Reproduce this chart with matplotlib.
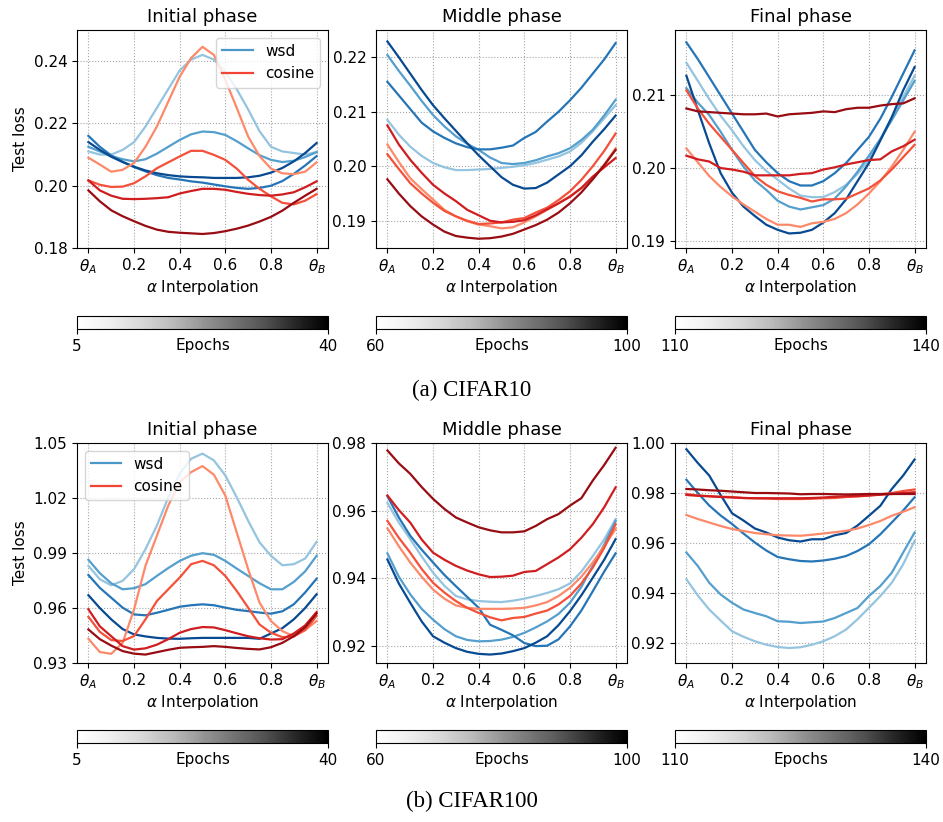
import numpy as np
import matplotlib
matplotlib.use("Agg")
import matplotlib.pyplot as plt
from matplotlib.cm import ScalarMappable
from matplotlib.colors import Normalize

alpha = [0.0, 0.05, 0.1, 0.15, 0.2, 0.25, 0.3, 0.35, 0.4, 0.45, 0.5,
         0.55, 0.6, 0.65, 0.7, 0.75, 0.8, 0.85, 0.9, 0.95, 1.0]

phases = ["Initial phase", "Middle phase", "Final phase"]
phase_epochs = [(5, 40), (60, 100), (110, 140)]

# ---- CIFAR10 test loss along the interpolation path (light -> dark = later epoch)
c10_init_wsd = [
    [0.2110, 0.2100, 0.2100, 0.2115, 0.2140, 0.2190, 0.2250, 0.2310, 0.2370, 0.2405, 0.2420,
     0.2405, 0.2365, 0.2310, 0.2245, 0.2175, 0.2125, 0.2110, 0.2105, 0.2100, 0.2108],
    [0.2125, 0.2110, 0.2095, 0.2085, 0.2078, 0.2085, 0.2103, 0.2125, 0.2147, 0.2165, 0.2174,
     0.2172, 0.2163, 0.2143, 0.2120, 0.2098, 0.2083, 0.2076, 0.2080, 0.2092, 0.2108],
    [0.2160, 0.2125, 0.2097, 0.2077, 0.2060, 0.2046, 0.2034, 0.2025, 0.2020, 0.2014, 0.2010,
     0.2004, 0.1998, 0.1993, 0.1990, 0.1993, 0.2000, 0.2015, 0.2038, 0.2065, 0.2095],
    [0.2140, 0.2115, 0.2093, 0.2076, 0.2061, 0.2049, 0.2040, 0.2034, 0.2030, 0.2028, 0.2027,
     0.2025, 0.2025, 0.2025, 0.2027, 0.2032, 0.2042, 0.2057, 0.2078, 0.2105, 0.2137],
]
c10_init_cos = [
    [0.2090, 0.2068, 0.2045, 0.2051, 0.2073, 0.2125, 0.2190, 0.2270, 0.2350, 0.2410, 0.2446,
     0.2420, 0.2340, 0.2250, 0.2158, 0.2095, 0.2055, 0.2040, 0.2037, 0.2045, 0.2075],
    [0.2017, 0.2003, 0.1996, 0.1997, 0.2008, 0.2030, 0.2056, 0.2075, 0.2094, 0.2112, 0.2112,
     0.2099, 0.2083, 0.2055, 0.2019, 0.1990, 0.1966, 0.1945, 0.1940, 0.1952, 0.1973],
    [0.2017, 0.1985, 0.1968, 0.1958, 0.1957, 0.1958, 0.1960, 0.1963, 0.1975, 0.1983, 0.1990,
     0.1990, 0.1987, 0.1980, 0.1974, 0.1970, 0.1968, 0.1972, 0.1979, 0.1995, 0.2014],
    [0.1985, 0.1950, 0.1921, 0.1902, 0.1886, 0.1871, 0.1859, 0.1852, 0.1849, 0.1847, 0.1845,
     0.1848, 0.1854, 0.1862, 0.1872, 0.1885, 0.1900, 0.1920, 0.1945, 0.1968, 0.1990],
]
c10_mid_wsd = [
    [0.2085, 0.2058, 0.2036, 0.2019, 0.2006, 0.1998, 0.1993, 0.1993, 0.1994, 0.1995, 0.1997,
     0.1999, 0.2002, 0.2006, 0.2012, 0.2018, 0.2027, 0.2043, 0.2064, 0.2088, 0.2112],
    [0.2204, 0.2175, 0.2148, 0.2120, 0.2094, 0.2073, 0.2055, 0.2041, 0.2030, 0.2016, 0.2006,
     0.2004, 0.2006, 0.2011, 0.2018, 0.2024, 0.2033, 0.2048, 0.2067, 0.2093, 0.2122],
    [0.2155, 0.2130, 0.2105, 0.2080, 0.2064, 0.2052, 0.2042, 0.2035, 0.2031, 0.2031, 0.2034,
     0.2038, 0.2052, 0.2063, 0.2082, 0.2100, 0.2121, 0.2144, 0.2170, 0.2196, 0.2226],
    [0.2229, 0.2200, 0.2170, 0.2140, 0.2112, 0.2088, 0.2065, 0.2042, 0.2020, 0.2000, 0.1980,
     0.1966, 0.1959, 0.1960, 0.1970, 0.1985, 0.2000, 0.2020, 0.2045, 0.2068, 0.2093],
]
c10_mid_cos = [
    [0.2040, 0.2008, 0.1978, 0.1958, 0.1939, 0.1920, 0.1908, 0.1899, 0.1893, 0.1890, 0.1886,
     0.1888, 0.1897, 0.1908, 0.1920, 0.1932, 0.1945, 0.1960, 0.1978, 0.2003, 0.2033],
    [0.2022, 0.1995, 0.1969, 0.1950, 0.1933, 0.1918, 0.1908, 0.1900, 0.1894, 0.1895, 0.1897,
     0.1902, 0.1905, 0.1915, 0.1924, 0.1938, 0.1954, 0.1975, 0.2000, 0.2028, 0.2060],
    [0.2075, 0.2040, 0.2012, 0.1988, 0.1966, 0.1950, 0.1936, 0.1920, 0.1910, 0.1900, 0.1897,
     0.1898, 0.1901, 0.1910, 0.1921, 0.1932, 0.1944, 0.1960, 0.1981, 0.1998, 0.2015],
    [0.1976, 0.1950, 0.1927, 0.1908, 0.1893, 0.1880, 0.1872, 0.1869, 0.1867, 0.1868, 0.1871,
     0.1876, 0.1884, 0.1892, 0.1902, 0.1915, 0.1932, 0.1952, 0.1976, 0.2002, 0.2030],
]
c10_fin_wsd = [
    [0.2145, 0.2120, 0.2095, 0.2072, 0.2052, 0.2030, 0.2011, 0.1996, 0.1984, 0.1972, 0.1962,
     0.1960, 0.1960, 0.1967, 0.1977, 0.1992, 0.2011, 0.2040, 0.2070, 0.2098, 0.2127],
    [0.2110, 0.2090, 0.2073, 0.2050, 0.2025, 0.2002, 0.1983, 0.1970, 0.1955, 0.1947, 0.1943,
     0.1946, 0.1949, 0.1958, 0.1975, 0.1995, 0.2017, 0.2040, 0.2066, 0.2093, 0.2120],
    [0.2173, 0.2150, 0.2125, 0.2100, 0.2075, 0.2050, 0.2025, 0.2008, 0.1993, 0.1982, 0.1976,
     0.1976, 0.1982, 0.1993, 0.2007, 0.2025, 0.2043, 0.2068, 0.2098, 0.2130, 0.2162],
    [0.2127, 0.2080, 0.2034, 0.1993, 0.1966, 0.1947, 0.1934, 0.1922, 0.1915, 0.1910, 0.1911,
     0.1915, 0.1925, 0.1938, 0.1957, 0.1982, 0.2007, 0.2038, 0.2070, 0.2107, 0.2139],
]
c10_fin_cos = [
    [0.2027, 0.2008, 0.1989, 0.1974, 0.1961, 0.1950, 0.1940, 0.1930, 0.1922, 0.1922, 0.1919,
     0.1924, 0.1926, 0.1930, 0.1938, 0.1950, 0.1965, 0.1982, 0.2002, 0.2025, 0.2050],
    [0.2107, 0.2082, 0.2061, 0.2043, 0.2025, 0.2007, 0.1989, 0.1977, 0.1968, 0.1963, 0.1959,
     0.1954, 0.1957, 0.1957, 0.1958, 0.1965, 0.1972, 0.1983, 0.1998, 0.2015, 0.2032],
    [0.2017, 0.2012, 0.2009, 0.2000, 0.1998, 0.1995, 0.1990, 0.1990, 0.1990, 0.1990, 0.1992,
     0.1993, 0.1998, 0.2001, 0.2005, 0.2008, 0.2011, 0.2012, 0.2023, 0.2030, 0.2039],
    [0.2082, 0.2078, 0.2077, 0.2076, 0.2075, 0.2074, 0.2074, 0.2075, 0.2071, 0.2074, 0.2075,
     0.2076, 0.2078, 0.2077, 0.2081, 0.2083, 0.2083, 0.2086, 0.2088, 0.2089, 0.2096],
]

# ---- CIFAR100
c100_init_wsd = [
    [0.9830, 0.9757, 0.9724, 0.9748, 0.9812, 0.9921, 1.0049, 1.0204, 1.0332, 1.0414, 1.0442,
     1.0405, 1.0323, 1.0204, 1.0076, 0.9958, 0.9885, 0.9833, 0.9839, 0.9870, 0.9961],
    [0.9863, 0.9790, 0.9735, 0.9702, 0.9708, 0.9730, 0.9775, 0.9818, 0.9857, 0.9885, 0.9899,
     0.9890, 0.9857, 0.9815, 0.9775, 0.9735, 0.9702, 0.9702, 0.9742, 0.9800, 0.9885],
    [0.9780, 0.9710, 0.9656, 0.9602, 0.9565, 0.9560, 0.9574, 0.9590, 0.9607, 0.9615, 0.9620,
     0.9615, 0.9602, 0.9590, 0.9583, 0.9575, 0.9569, 0.9582, 0.9620, 0.9685, 0.9760],
    [0.9670, 0.9600, 0.9538, 0.9485, 0.9456, 0.9445, 0.9437, 0.9433, 0.9432, 0.9435, 0.9437,
     0.9437, 0.9437, 0.9437, 0.9437, 0.9432, 0.9461, 0.9490, 0.9538, 0.9600, 0.9675],
]
c100_init_cos = [
    [0.9432, 0.9360, 0.9350, 0.9410, 0.9592, 0.9830, 0.9994, 1.0159, 1.0286, 1.0341, 1.0374,
     1.0327, 1.0213, 1.0012, 0.9812, 0.9629, 0.9529, 0.9474, 0.9446, 0.9480, 0.9529],
    [0.9552, 0.9470, 0.9425, 0.9420, 0.9447, 0.9538, 0.9638, 0.9702, 0.9766, 0.9839, 0.9857,
     0.9833, 0.9775, 0.9693, 0.9602, 0.9510, 0.9465, 0.9441, 0.9445, 0.9480, 0.9556],
    [0.9593, 0.9500, 0.9446, 0.9392, 0.9373, 0.9380, 0.9400, 0.9430, 0.9465, 0.9485, 0.9496,
     0.9494, 0.9479, 0.9462, 0.9446, 0.9435, 0.9428, 0.9430, 0.9461, 0.9505, 0.9578],
    [0.9483, 0.9430, 0.9395, 0.9365, 0.9351, 0.9346, 0.9359, 0.9372, 0.9383, 0.9386, 0.9388,
     0.9392, 0.9388, 0.9382, 0.9377, 0.9374, 0.9386, 0.9410, 0.9446, 0.9495, 0.9570],
]
c100_mid_wsd = [
    [0.9623, 0.9565, 0.9516, 0.9465, 0.9417, 0.9378, 0.9348, 0.9338, 0.9333, 0.9331, 0.9330,
     0.9334, 0.9340, 0.9348, 0.9357, 0.9368, 0.9385, 0.9420, 0.9466, 0.9515, 0.9575],
    [0.9474, 0.9405, 0.9353, 0.9310, 0.9278, 0.9250, 0.9229, 0.9218, 0.9214, 0.9215, 0.9219,
     0.9227, 0.9239, 0.9255, 0.9273, 0.9295, 0.9328, 0.9375, 0.9437, 0.9500, 0.9570],
    [0.9643, 0.9580, 0.9526, 0.9485, 0.9447, 0.9410, 0.9377, 0.9345, 0.9313, 0.9263, 0.9248,
     0.9232, 0.9209, 0.9200, 0.9201, 0.9220, 0.9258, 0.9305, 0.9362, 0.9420, 0.9474],
    [0.9456, 0.9385, 0.9328, 0.9273, 0.9229, 0.9210, 0.9194, 0.9183, 0.9177, 0.9175, 0.9178,
     0.9185, 0.9194, 0.9210, 0.9229, 0.9262, 0.9303, 0.9350, 0.9402, 0.9455, 0.9516],
]
c100_mid_cos = [
    [0.9548, 0.9495, 0.9447, 0.9405, 0.9367, 0.9340, 0.9320, 0.9313, 0.9310, 0.9310, 0.9310,
     0.9311, 0.9313, 0.9320, 0.9330, 0.9348, 0.9372, 0.9405, 0.9447, 0.9495, 0.9546],
    [0.9570, 0.9520, 0.9476, 0.9428, 0.9387, 0.9358, 0.9333, 0.9313, 0.9298, 0.9285, 0.9276,
     0.9283, 0.9286, 0.9296, 0.9305, 0.9323, 0.9348, 0.9385, 0.9432, 0.9490, 0.9560],
    [0.9645, 0.9602, 0.9565, 0.9515, 0.9476, 0.9455, 0.9437, 0.9423, 0.9412, 0.9404, 0.9405,
     0.9408, 0.9419, 0.9422, 0.9442, 0.9462, 0.9486, 0.9520, 0.9560, 0.9610, 0.9669],
    [0.9778, 0.9740, 0.9709, 0.9670, 0.9635, 0.9605, 0.9580, 0.9565, 0.9551, 0.9542, 0.9536,
     0.9536, 0.9539, 0.9555, 0.9575, 0.9590, 0.9615, 0.9637, 0.9689, 0.9735, 0.9786],
]
c100_fin_wsd = [
    [0.9455, 0.9390, 0.9334, 0.9290, 0.9247, 0.9225, 0.9207, 0.9193, 0.9184, 0.9180, 0.9183,
     0.9193, 0.9207, 0.9227, 0.9254, 0.9295, 0.9341, 0.9388, 0.9441, 0.9515, 0.9609],
    [0.9562, 0.9508, 0.9441, 0.9394, 0.9361, 0.9334, 0.9320, 0.9307, 0.9287, 0.9285, 0.9280,
     0.9283, 0.9286, 0.9300, 0.9320, 0.9340, 0.9388, 0.9428, 0.9481, 0.9562, 0.9642],
    [0.9853, 0.9800, 0.9750, 0.9710, 0.9676, 0.9638, 0.9602, 0.9570, 0.9544, 0.9535, 0.9528,
     0.9526, 0.9530, 0.9537, 0.9548, 0.9568, 0.9595, 0.9635, 0.9682, 0.9730, 0.9783],
    [0.9975, 0.9920, 0.9870, 0.9792, 0.9719, 0.9690, 0.9658, 0.9642, 0.9622, 0.9611, 0.9606,
     0.9615, 0.9615, 0.9631, 0.9640, 0.9670, 0.9709, 0.9749, 0.9816, 0.9870, 0.9934],
]
c100_fin_cos = [
    [0.9712, 0.9696, 0.9682, 0.9668, 0.9656, 0.9648, 0.9640, 0.9635, 0.9631, 0.9630, 0.9629,
     0.9633, 0.9638, 0.9643, 0.9649, 0.9658, 0.9672, 0.9688, 0.9709, 0.9725, 0.9743],
    [0.9796, 0.9790, 0.9787, 0.9785, 0.9784, 0.9780, 0.9779, 0.9778, 0.9776, 0.9776, 0.9776,
     0.9777, 0.9779, 0.9780, 0.9784, 0.9786, 0.9790, 0.9795, 0.9800, 0.9808, 0.9814],
    [0.9792, 0.9789, 0.9787, 0.9784, 0.9782, 0.9780, 0.9779, 0.9779, 0.9779, 0.9779, 0.9779,
     0.9780, 0.9782, 0.9785, 0.9787, 0.9788, 0.9790, 0.9793, 0.9796, 0.9800, 0.9803],
    [0.9816, 0.9814, 0.9811, 0.9809, 0.9806, 0.9803, 0.9800, 0.9800, 0.9799, 0.9798, 0.9795,
     0.9796, 0.9796, 0.9795, 0.9794, 0.9795, 0.9796, 0.9796, 0.9796, 0.9796, 0.9796],
]

c10_ylims = [(0.18, 0.25), (0.185, 0.225), (0.189, 0.219)]
c10_yticks = [[0.18, 0.20, 0.22, 0.24], [0.19, 0.20, 0.21, 0.22], [0.19, 0.20, 0.21]]
c100_ylims = [(0.93, 1.05), (0.915, 0.98), (0.912, 1.0)]
c100_yticks = [[0.93, 0.96, 0.99, 1.02, 1.05], [0.92, 0.94, 0.96, 0.98],
               [0.92, 0.94, 0.96, 0.98, 1.00]]

xtick_pos = [0.0, 0.2, 0.4, 0.6, 0.8, 1.0]
xtick_labels = [r"$\theta_A$", "0.2", "0.4", "0.6", "0.8", r"$\theta_B$"]

W, H = 943, 822
fig = plt.figure(figsize=(W / 100, H / 100), dpi=100)

lefts = [77, 376, 675]
ax_w = 251


def px_axes(x0, y_top, w, h):
    return fig.add_axes([x0 / W, 1 - (y_top + h) / H, w / W, h / H])


def draw_row(wsd_sets, cos_sets, ylims, yticks, y_top, ax_h, cb_top, caption, caption_y, legend_loc):
    for k in range(3):
        ax = px_axes(lefts[k], y_top, ax_w, ax_h)
        n = len(wsd_sets[k])
        blues = plt.cm.Blues(np.linspace(0.4, 0.9, n))
        reds = plt.cm.Reds(np.linspace(0.4, 0.9, n))
        for i, ys in enumerate(wsd_sets[k]):
            ax.plot(alpha, ys, color=blues[i], lw=1.6)
        for i, ys in enumerate(cos_sets[k]):
            ax.plot(alpha, ys, color=reds[i], lw=1.6)
        ax.set_ylim(*ylims[k])
        ax.set_yticks(yticks[k])
        ax.set_yticklabels(["%.2f" % t for t in yticks[k]])
        ax.set_xticks(xtick_pos)
        ax.set_xticklabels(xtick_labels)
        ax.tick_params(labelsize=11)
        ax.grid(True, linestyle=":", color="0.65", linewidth=0.8)
        ax.set_title(phases[k], fontsize=13)
        ax.set_xlabel(r"$\alpha$ Interpolation", fontsize=11, labelpad=1)
        if k == 0:
            ax.set_ylabel("Test loss", fontsize=11)
            ax.plot([], [], color=plt.cm.Blues(0.6), lw=1.6, label="wsd")
            ax.plot([], [], color=plt.cm.Reds(0.6), lw=1.6, label="cosine")
            ax.legend(loc=legend_loc, fontsize=11)

        # epoch colour bar under each panel
        cax = px_axes(lefts[k], cb_top, ax_w, 13)
        lo, hi = phase_epochs[k]
        sm = ScalarMappable(norm=Normalize(lo, hi), cmap="Greys")
        cb = fig.colorbar(sm, cax=cax, orientation="horizontal")
        cb.set_ticks([lo, hi])
        cb.ax.tick_params(labelsize=11)
        cb.set_label("Epochs", fontsize=11, labelpad=-11)

    fig.text(0.5, 1 - caption_y / H, caption, ha="center", va="center",
             family="Liberation Serif", fontsize=16.5)


draw_row([c10_init_wsd, c10_mid_wsd, c10_fin_wsd],
         [c10_init_cos, c10_mid_cos, c10_fin_cos],
         c10_ylims, c10_yticks, 30, 218, 316, "(a) CIFAR10", 390, "upper right")
draw_row([c100_init_wsd, c100_mid_wsd, c100_fin_wsd],
         [c100_init_cos, c100_mid_cos, c100_fin_cos],
         c100_ylims, c100_yticks, 443, 220, 730, "(b) CIFAR100", 801, "upper left")

fig.savefig("out.png", dpi=100)
